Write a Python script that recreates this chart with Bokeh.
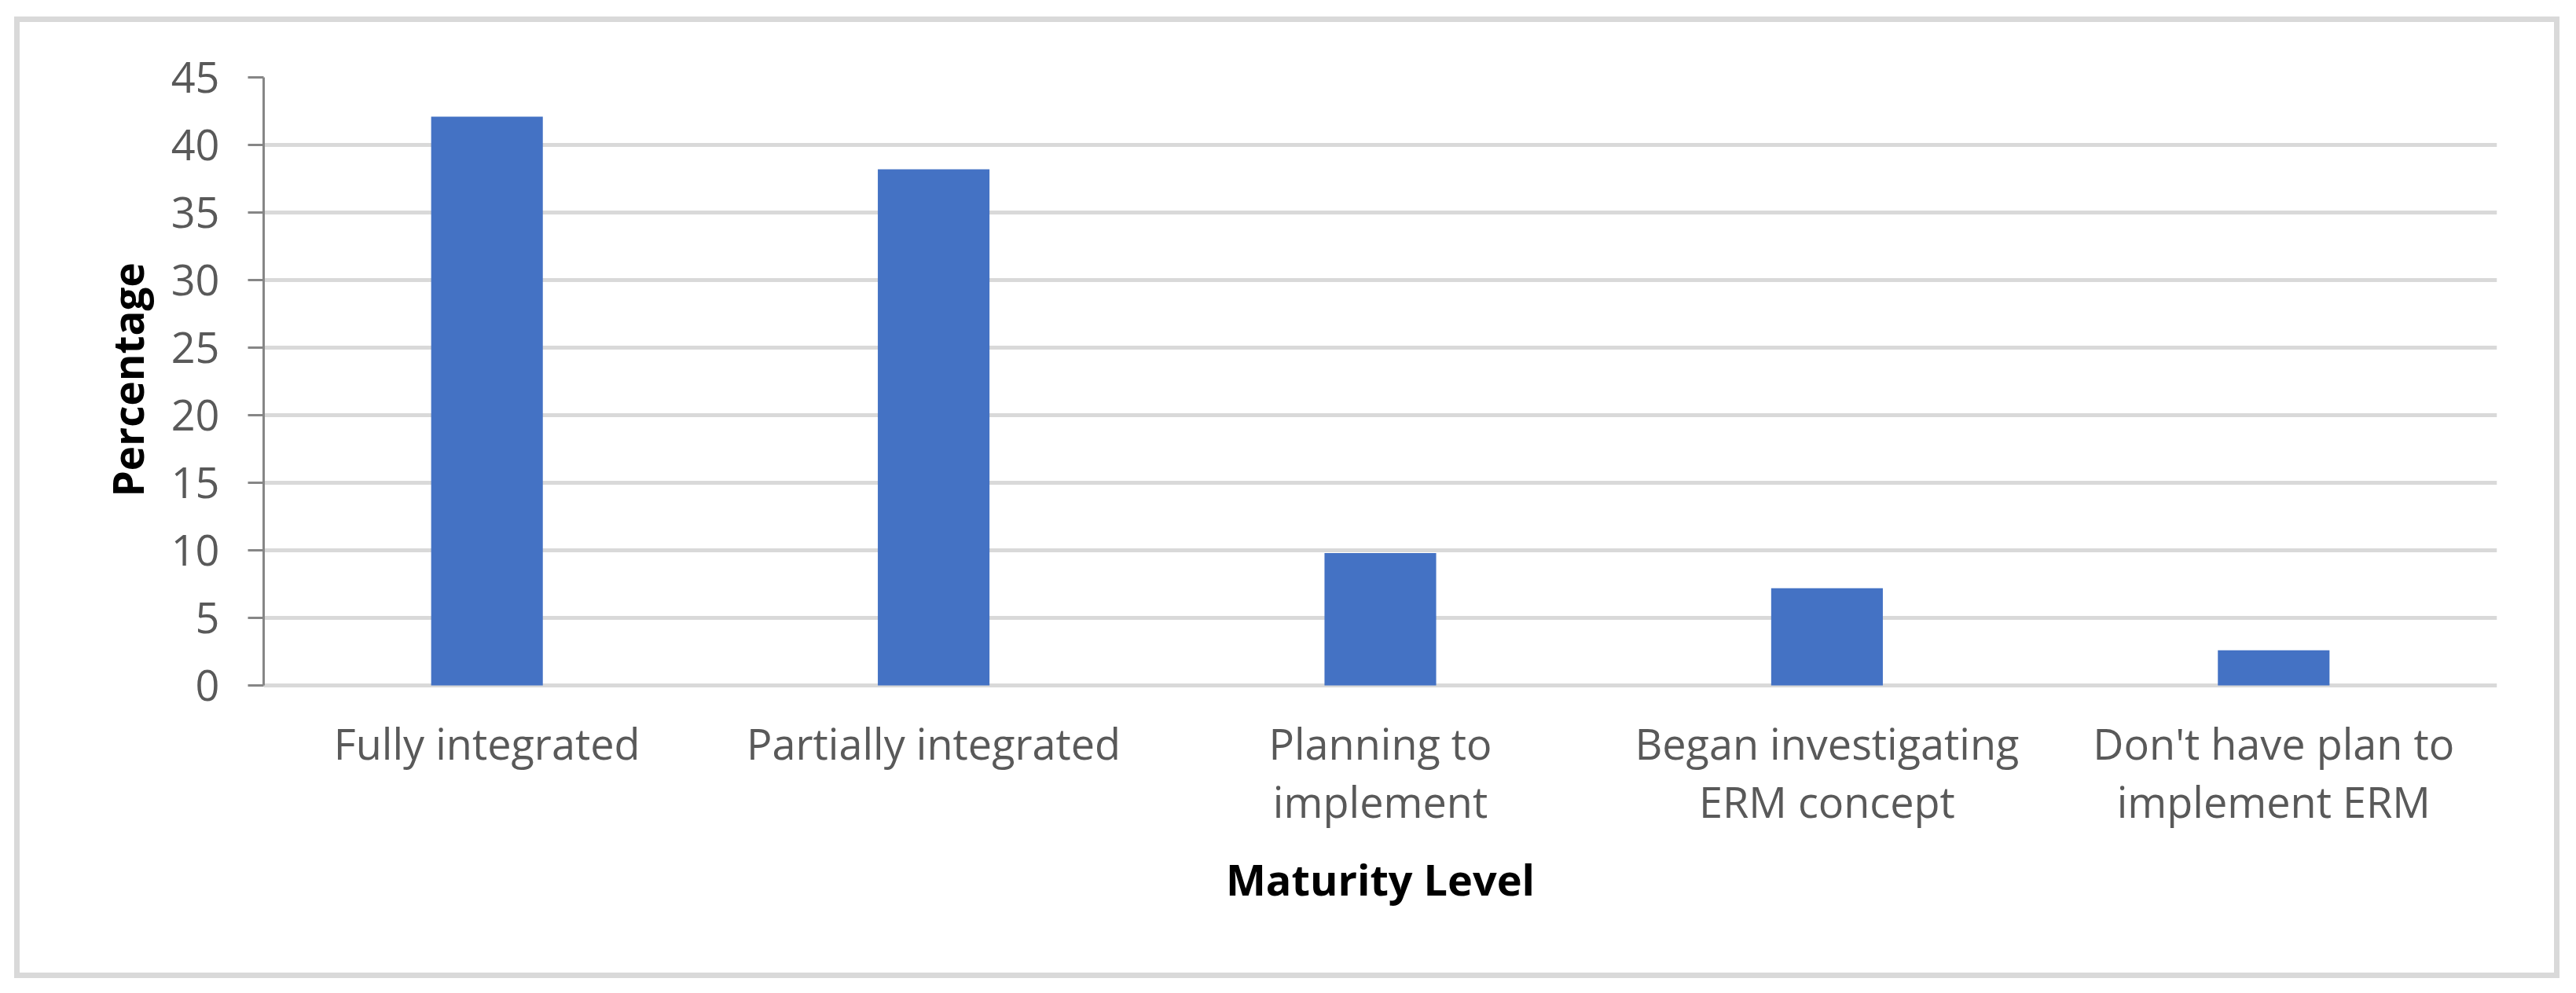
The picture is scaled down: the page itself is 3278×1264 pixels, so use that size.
from bokeh.plotting import figure
from bokeh.models import FactorRange, Range1d, FixedTicker, Title
from bokeh.core.properties import value
from bokeh.embed import file_html
from bokeh.resources import INLINE

categories = ["Fully integrated", "Partially integrated", "Planning to implement",
              "Began investigating ERM concept", "Don't have plan to implement ERM"]
label_line1 = ["Fully integrated", "Partially integrated", "Planning to",
               "Began investigating", "Don't have plan to"]
wrapped_categories = ["Planning to implement", "Began investigating ERM concept",
                      "Don't have plan to implement ERM"]
label_line2 = ["implement", "ERM concept", "implement ERM"]
percentages = [42.1, 38.2, 9.8, 7.2, 2.6]
y_ticks = [0, 5, 10, 15, 20, 25, 30, 35, 40, 45]
x_title = "Maturity Level"
y_title = "Percentage"

FONT = "Open Sans"
W, H = 3262, 1248
F_LEFT, F_RIGHT, F_TOP, F_ZERO, F_BOTTOM = 335, 3177, 98, 872, 1200
Y_MAX = 45
PX_PER_UNIT = (F_ZERO - F_TOP) / Y_MAX
Y_MIN = -(F_BOTTOM - F_ZERO) / PX_PER_UNIT   # frame extends below 0 for the category labels

p = figure(x_range=FactorRange(*categories, range_padding=0),
           y_range=Range1d(Y_MIN, Y_MAX),
           width=W, height=H,
           output_backend="svg", toolbar_location=None,
           min_border_left=F_LEFT, min_border_right=W - F_RIGHT,
           min_border_top=F_TOP, min_border_bottom=H - F_BOTTOM)

# light grey outer frame drawn as CSS background bands behind a transparent canvas border
BX0, BY0, BX1, BY1, BT = 18, 21, 3257, 1245, 7
band = "linear-gradient(#D9D9D9,#D9D9D9)"
p.styles = {
    "background": ", ".join([
        f"{band} {BX0}px {BY0}px / {BX1 - BX0}px {BT}px no-repeat",
        f"{band} {BX0}px {BY1 - BT}px / {BX1 - BX0}px {BT}px no-repeat",
        f"{band} {BX0}px {BY0}px / {BT}px {BY1 - BY0}px no-repeat",
        f"{band} {BX1 - BT}px {BY0}px / {BT}px {BY1 - BY0}px no-repeat",
        "white",
    ])
}
p.border_fill_color = None
p.background_fill_color = "white"
p.outline_line_color = None

p.vbar(x=categories, top=percentages, width=0.25, color="#4472C4", line_color=None)

p.xgrid.grid_line_color = None
p.ygrid.grid_line_color = "#D9D9D9"
p.ygrid.grid_line_width = 5
p.ygrid.ticker = FixedTicker(ticks=y_ticks)

p.yaxis.ticker = FixedTicker(ticks=y_ticks)
p.yaxis.bounds = (0, Y_MAX)
p.yaxis.axis_line_color = "#868686"
p.yaxis.axis_line_width = 3
p.yaxis.major_tick_line_color = "#868686"
p.yaxis.major_tick_line_width = 3
p.yaxis.major_tick_out = 20
p.yaxis.major_tick_in = 0
p.yaxis.minor_tick_line_color = None
p.yaxis.major_label_standoff = 36
p.yaxis.major_label_text_font = FONT
p.yaxis.major_label_text_font_size = "54px"
p.yaxis.major_label_text_color = "#595959"

# y-axis title centred on the 0..45 part of the frame (measured from the frame bottom)
y_title_center = (F_TOP + F_ZERO) / 2
y_title_len = 294
p.add_layout(Title(text=y_title, align="left",
                   offset=F_BOTTOM - (y_title_center + y_title_len / 2),
                   standoff=32, text_font=FONT, text_font_style="bold",
                   text_font_size="53px", text_color="black"), "left")

p.xaxis.visible = False

n = len(categories)
p.text(x=categories, y=[-73 / PX_PER_UNIT] * n, text=label_line1,
       text_align="center", text_baseline="middle",
       text_font=value(FONT), text_font_size="54px", text_color="#595959")
p.text(x=wrapped_categories, y=[-147 / PX_PER_UNIT] * len(wrapped_categories),
       text=label_line2, text_align="center", text_baseline="middle",
       text_font=value(FONT), text_font_size="54px", text_color="#595959")
p.text(x=[categories[2]], y=[-246 / PX_PER_UNIT], text=[x_title],
       text_align="center", text_baseline="middle",
       text_font=value(FONT), text_font_size="54px", text_font_style="bold",
       text_color="black")

open("out.html", "w").write(file_html(p, INLINE))
